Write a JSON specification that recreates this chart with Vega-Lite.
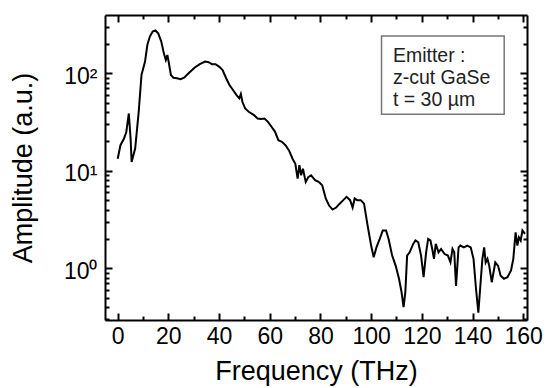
{
  "$schema": "https://vega.github.io/schema/vega-lite/v6.json",
  "width": 422,
  "height": 305,
  "autosize": {"type": "none"},
  "padding": {"left": 105, "top": 15, "right": 19, "bottom": 68},
  "background": "white",
  "config": {
    "view": {"stroke": null},
    "font": "Liberation Sans",
    "axis": {
      "domainColor": "black",
      "domainWidth": 2,
      "tickColor": "black",
      "tickWidth": 2,
      "labelColor": "black",
      "titleColor": "black",
      "labelFont": "Liberation Sans",
      "titleFont": "Liberation Sans",
      "labelFontSize": 23,
      "titleFontSize": 27,
      "titleFontWeight": "normal",
      "grid": false,
      "labelOverlap": false,
      "labelBound": false,
      "labelFlush": false
    }
  },
  "datasets": {
    "spectrum": [
      {"f": 0, "a": 13.3}, {"f": 1.1, "a": 18.3}, {"f": 2.5, "a": 21.4}, {"f": 3.4, "a": 25},
      {"f": 4.4, "a": 38.7}, {"f": 5.1, "a": 21.4}, {"f": 5.5, "a": 12.3}, {"f": 6.9, "a": 16.9},
      {"f": 8.3, "a": 40.3}, {"f": 9.4, "a": 96}, {"f": 10.8, "a": 132}, {"f": 11.7, "a": 195},
      {"f": 12.7, "a": 238}, {"f": 13.8, "a": 268}, {"f": 14.9, "a": 275}, {"f": 16, "a": 257},
      {"f": 17.2, "a": 212}, {"f": 18.2, "a": 161}, {"f": 19, "a": 137}, {"f": 19.6, "a": 154},
      {"f": 20.1, "a": 132}, {"f": 21, "a": 96}, {"f": 22, "a": 90}, {"f": 23.4, "a": 89},
      {"f": 24.8, "a": 87}, {"f": 26.2, "a": 90}, {"f": 28.3, "a": 102}, {"f": 30.3, "a": 114},
      {"f": 32.4, "a": 124}, {"f": 34.5, "a": 132}, {"f": 35.9, "a": 130}, {"f": 37.2, "a": 124},
      {"f": 38.6, "a": 124}, {"f": 40, "a": 117}, {"f": 41.4, "a": 108}, {"f": 42.8, "a": 89},
      {"f": 44.1, "a": 75.9}, {"f": 45.5, "a": 67.3}, {"f": 46.9, "a": 59.8}, {"f": 48, "a": 55.3},
      {"f": 48.6, "a": 61.2}, {"f": 49.2, "a": 51}, {"f": 50.3, "a": 43.6}, {"f": 51.7, "a": 40.3},
      {"f": 53.8, "a": 37.2}, {"f": 55.2, "a": 34.4}, {"f": 56.6, "a": 33.9}, {"f": 57.9, "a": 34.4},
      {"f": 59.3, "a": 31.8}, {"f": 60.7, "a": 28.3}, {"f": 62.1, "a": 25.1}, {"f": 63.4, "a": 20.6},
      {"f": 64.8, "a": 19.8}, {"f": 66.2, "a": 18.3}, {"f": 67.6, "a": 16.2}, {"f": 69, "a": 13.3},
      {"f": 70.1, "a": 11.8}, {"f": 71, "a": 8.3}, {"f": 71.7, "a": 11.4}, {"f": 72.4, "a": 9.0},
      {"f": 73.1, "a": 10.5}, {"f": 74.2, "a": 7.7}, {"f": 75.2, "a": 8.6}, {"f": 76.3, "a": 9.0},
      {"f": 77.9, "a": 8.0}, {"f": 79.3, "a": 7.7}, {"f": 80.7, "a": 7.1}, {"f": 82.1, "a": 5.2},
      {"f": 83.4, "a": 4.4}, {"f": 84.8, "a": 4.0}, {"f": 86.2, "a": 4.2}, {"f": 87.6, "a": 4.6},
      {"f": 89, "a": 5.0}, {"f": 90.3, "a": 5.4}, {"f": 91.7, "a": 5.0}, {"f": 92.7, "a": 4.2},
      {"f": 93.5, "a": 5.2}, {"f": 94.5, "a": 5.0}, {"f": 95.9, "a": 5.0}, {"f": 97.2, "a": 4.6},
      {"f": 98.6, "a": 2.75}, {"f": 100, "a": 1.71}, {"f": 101, "a": 1.3}, {"f": 102.1, "a": 1.64},
      {"f": 103.4, "a": 2.0}, {"f": 104.6, "a": 2.44}, {"f": 105.9, "a": 2.44}, {"f": 106.9, "a": 2.0},
      {"f": 108.3, "a": 1.35}, {"f": 109.7, "a": 1.06}, {"f": 111, "a": 0.78}, {"f": 112, "a": 0.57},
      {"f": 112.8, "a": 0.4}, {"f": 113.5, "a": 0.57}, {"f": 114.2, "a": 1.35}, {"f": 115.2, "a": 1.46},
      {"f": 116.6, "a": 1.78}, {"f": 117.5, "a": 1.93}, {"f": 118.6, "a": 1.85}, {"f": 119.7, "a": 1.35},
      {"f": 120.7, "a": 0.81}, {"f": 121.7, "a": 1.46}, {"f": 122.5, "a": 2.0}, {"f": 123.4, "a": 1.93},
      {"f": 124.1, "a": 1.58}, {"f": 124.8, "a": 1.25}, {"f": 125.5, "a": 1.78}, {"f": 126.6, "a": 1.46},
      {"f": 127.6, "a": 1.58}, {"f": 129, "a": 1.4}, {"f": 130.3, "a": 1.35}, {"f": 131.3, "a": 1.15},
      {"f": 132.1, "a": 1.58}, {"f": 132.8, "a": 1.46}, {"f": 133.5, "a": 0.66}, {"f": 134.5, "a": 1.64},
      {"f": 135.2, "a": 1.71}, {"f": 136.6, "a": 1.64}, {"f": 137.9, "a": 1.71}, {"f": 139.3, "a": 1.64},
      {"f": 140.4, "a": 1.25}, {"f": 141.4, "a": 0.61}, {"f": 142.3, "a": 0.35}, {"f": 143.2, "a": 0.72},
      {"f": 143.9, "a": 1.25}, {"f": 144.6, "a": 1.64}, {"f": 145.2, "a": 1.15}, {"f": 145.9, "a": 1.25},
      {"f": 146.6, "a": 1.06}, {"f": 147.6, "a": 0.72}, {"f": 148.3, "a": 0.91}, {"f": 149, "a": 1.15},
      {"f": 150.1, "a": 1.06}, {"f": 151.1, "a": 0.84}, {"f": 152.4, "a": 0.78}, {"f": 153.8, "a": 0.81},
      {"f": 155.2, "a": 0.95}, {"f": 156.1, "a": 1.25}, {"f": 157, "a": 2.34}, {"f": 157.7, "a": 1.71},
      {"f": 158.3, "a": 2.08}, {"f": 159, "a": 1.93}, {"f": 159.7, "a": 2.44}, {"f": 160.7, "a": 2.25}
    ],
    "box": [{"x1": 104.1, "x2": 152.5, "y1": 241.3, "y2": 38.0}],
    "notes": [
      {"x": 108.6, "y": 129.7, "label": "Emitter :"},
      {"x": 108.6, "y": 77.7, "label": "z-cut GaSe"},
      {"x": 108.6, "y": 46.7, "label": "t = 30 µm"}
    ]
  },
  "layer": [
    {
      "data": {"name": "spectrum"},
      "mark": {"type": "line", "color": "black", "strokeWidth": 2, "clip": true},
      "encoding": {
        "x": {
          "field": "f", "type": "quantitative",
          "scale": {"domain": [-5, 161.5], "nice": false, "zero": false},
          "axis": {
            "orient": "bottom",
            "title": "Frequency (THz)",
            "values": [0, 10, 20, 30, 40, 50, 60, 70, 80, 90, 100, 110, 120, 130, 140, 150, 160],
            "labelExpr": "datum.value % 20 === 0 ? datum.label : ''",
            "tickSize": {"condition": {"test": "datum.value % 20 === 0", "value": -7}, "value": -4},
            "labelPadding": 12,
            "titlePadding": 7
          }
        },
        "y": {
          "field": "a", "type": "quantitative",
          "scale": {"type": "log", "domain": [0.295, 396], "nice": false},
          "axis": {
            "orient": "left",
            "title": "Amplitude (a.u.)",
            "values": [0.3, 0.4, 0.5, 0.6, 0.7, 0.8, 0.9, 1, 2, 3, 4, 5, 6, 7, 8, 9, 10, 20, 30, 40, 50, 60, 70, 80, 90, 100, 200, 300],
            "labelExpr": "datum.value === 1 ? '10⁰' : datum.value === 10 ? '10¹' : datum.value === 100 ? '10²' : ''",
            "tickSize": {"condition": {"test": "datum.value === 1 || datum.value === 10 || datum.value === 100", "value": -7}, "value": -4},
            "labelPadding": 15,
            "labelOffset": 3,
            "titlePadding": 26
          }
        }
      }
    },
    {
      "data": {"name": "box"},
      "mark": {"type": "rect", "fill": "white", "fillOpacity": 0, "stroke": "#777777", "strokeWidth": 1.5},
      "encoding": {
        "x": {
          "field": "x1", "type": "quantitative",
          "scale": {"domain": [-5, 161.5], "nice": false, "zero": false},
          "axis": {
            "orient": "top",
            "title": null,
            "values": [0, 10, 20, 30, 40, 50, 60, 70, 80, 90, 100, 110, 120, 130, 140, 150, 160],
            "labels": false,
            "tickSize": {"condition": {"test": "datum.value % 20 === 0", "value": -7}, "value": -4}
          }
        },
        "x2": {"field": "x2"},
        "y": {
          "field": "y1", "type": "quantitative",
          "scale": {"type": "log", "domain": [0.295, 396], "nice": false},
          "axis": {
            "orient": "right",
            "title": null,
            "values": [0.3, 0.4, 0.5, 0.6, 0.7, 0.8, 0.9, 1, 2, 3, 4, 5, 6, 7, 8, 9, 10, 20, 30, 40, 50, 60, 70, 80, 90, 100, 200, 300],
            "labels": false,
            "tickSize": {"condition": {"test": "datum.value === 1 || datum.value === 10 || datum.value === 100", "value": -7}, "value": -4}
          }
        },
        "y2": {"field": "y2"}
      }
    },
    {
      "data": {"name": "notes"},
      "mark": {"type": "text", "align": "left", "baseline": "alphabetic", "fontSize": 19.5, "font": "Liberation Sans", "color": "#222222"},
      "encoding": {
        "x": {"field": "x", "type": "quantitative", "axis": null},
        "y": {"field": "y", "type": "quantitative", "scale": {"type": "log"}, "axis": null},
        "text": {"field": "label"}
      }
    }
  ],
  "resolve": {"axis": {"x": "independent", "y": "independent"}}
}
